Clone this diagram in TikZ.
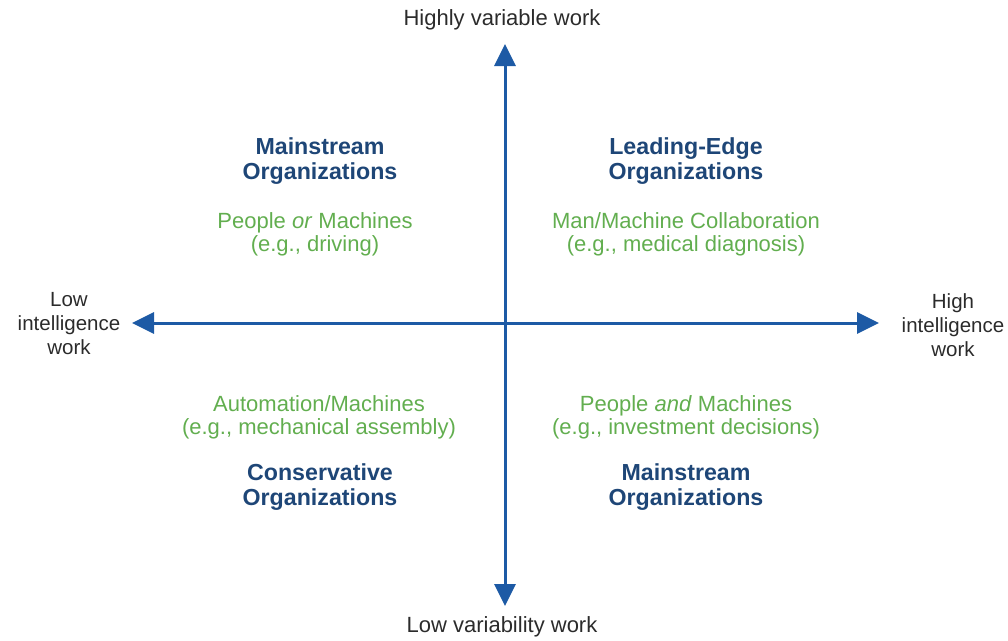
\documentclass[tikz,border=0pt]{standalone}
\usepackage{fontspec}
\setmainfont{Liberation Sans}
\usetikzlibrary{arrows.meta}
\definecolor{axisblue}{HTML}{1D5AA5}
\definecolor{titleblue}{HTML}{1E4677}
\definecolor{noteg}{HTML}{62AE4F}
\definecolor{axistext}{HTML}{2B2B2B}
\begin{document}
\begin{tikzpicture}[x=1pt,y=-1pt,
  axis/.style={draw=axisblue,line width=3pt,{Triangle[length=22pt,width=21pt]}-{Triangle[length=22pt,width=21pt]}},
  axislabel/.style={text=axistext,align=center,inner sep=0pt,font=\fontsize{20.5}{24}\selectfont},
  endlabel/.style={axislabel,font=\fontsize{22}{24}\selectfont},
  quadtitle/.style={text=titleblue,align=center,inner sep=0pt,font=\fontsize{23.2}{24.5}\selectfont\bfseries},
  quadnote/.style={text=noteg,align=center,inner sep=0pt,font=\fontsize{22}{23}\selectfont}]
\useasboundingbox (0,0) rectangle (1008,640);

% axes
\coordinate (vtop) at (505,44);
\coordinate (vbot) at (505,606);
\coordinate (hleft) at (132,323);
\coordinate (hright) at (879,323);
\draw[axis] (vbot) -- (vtop);
\draw[axis] (hleft) -- (hright);

% axis labels
\node[endlabel] (top) at (502,20) {Highly variable work};
\node[endlabel] (bottom) at (502,627) {Low variability work};
\node[axislabel] (left) at (69,324) {Low\\intelligence\\work};
\node[axislabel] (right) at (953,325) {High\\intelligence\\work};

% upper left quadrant
\node[quadtitle] (ultitle) at (320,161) {Mainstream\\Organizations};
\node[quadnote] (ulnote) at (315,234) {People \textit{or} Machines\\(e.g., driving)};

% upper right quadrant
\node[quadtitle] (urtitle) at (686,161) {Leading-Edge\\Organizations};
\node[quadnote] (urnote) at (686,234) {Man/Machine Collaboration\\(e.g., medical diagnosis)};

% lower left quadrant
\node[quadnote] (llnote) at (319,417) {Automation/Machines\\(e.g., mechanical assembly)};
\node[quadtitle] (lltitle) at (320,487) {Conservative\\Organizations};

% lower right quadrant
\node[quadnote] (lrnote) at (686,417) {People \textit{and} Machines\\(e.g., investment decisions)};
\node[quadtitle] (lrtitle) at (686,487) {Mainstream\\Organizations};
\end{tikzpicture}
\end{document}
